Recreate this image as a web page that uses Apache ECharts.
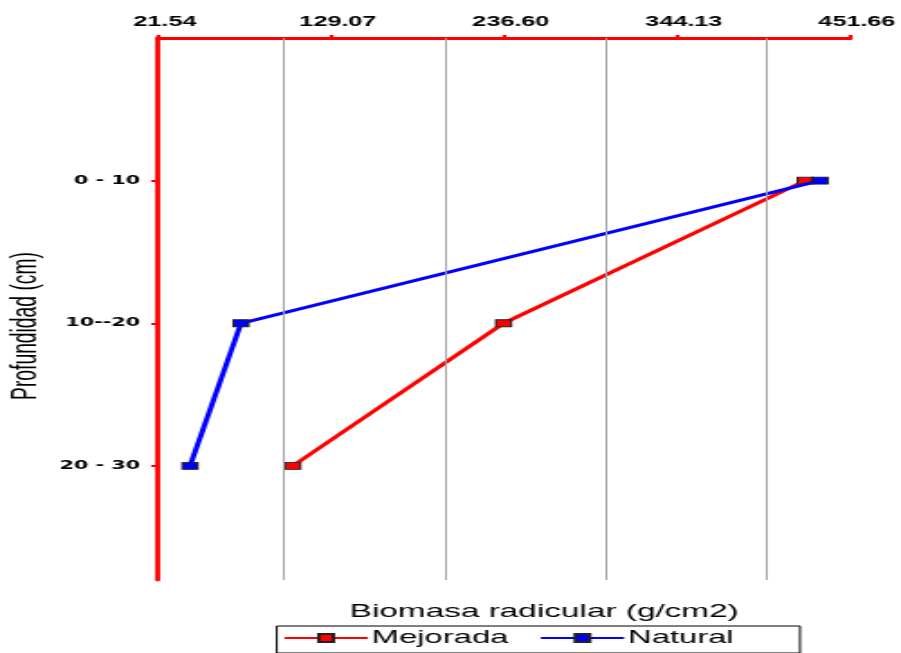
<!DOCTYPE html>
<html><head><meta charset="utf-8">
<script src="https://cdn.jsdelivr.net/npm/echarts@6/dist/echarts.min.js"></script>
<style>
html,body{margin:0;padding:0;background:#fff;overflow:hidden}
#wrap{width:901px;height:653px;overflow:hidden}
#c{width:500px;height:653px;transform:scaleX(1.802);transform-origin:0 0}
</style>
</head><body><div id="wrap"><div id="c"></div></div>
<script>
const depthCategories = ['0 - 10', '10--20', '20 - 30'];
const mejorada = [423.8, 236.3, 105.3];
const natural = [433.1, 73.1, 41.4];
const xTickLabels = [21.54, 129.07, 236.60, 344.13, 451.66];
const gridValues = [100, 200, 300, 400];

const toPts = arr => arr.map((v, i) => [v, i + 1]);
const chart = echarts.init(document.getElementById('c'));
const symbolStyle = { borderColor: '#222', borderWidth: 1 };
const FONT = 'Liberation Sans, Arial, sans-serif';
chart.setOption({
  animation: false,
  grid: { left: 87.7, right: 28.3, top: 38, bottom: 73 },
  title: {
    text: 'Biomasa radicular (g/cm2)', left: 297, top: 597, textAlign: 'center',
    textStyle: { fontFamily: FONT, fontSize: 18.5, fontWeight: 'normal', color: '#000' }
  },
  graphic: [{
    type: 'text', x: 14.5, y: 326, rotation: Math.PI / 2, silent: true,
    style: {
      text: 'Profundidad (cm)', fill: '#000', align: 'center', verticalAlign: 'middle',
      textAlign: 'center', textVerticalAlign: 'middle',
      font: '19.3px ' + FONT
    }
  }],
  legend: {
    left: 153.6, top: 626, padding: [3, 36.8, 6, 3.3], itemGap: 17,
    borderColor: '#000', borderWidth: 1, borderRadius: 0,
    itemWidth: 46.2, itemHeight: 10,
    textStyle: { fontFamily: FONT, fontSize: 18.2, color: '#000', padding: [0, 0, 0, -2.8] },
    data: ['Mejorada', 'Natural']
  },
  xAxis: {
    type: 'value', position: 'top',
    min: xTickLabels[0], max: xTickLabels[xTickLabels.length - 1],
    axisLine: { show: true, onZero: false, lineStyle: { color: '#ff0000', width: 3 } },
    axisTick: { show: true, length: 3, customValues: xTickLabels, lineStyle: { color: '#ff0000', width: 2.2 } },
    axisLabel: {
      customValues: xTickLabels, formatter: v => v.toFixed(2), margin: 9,
      padding: [0, 0, 0, 7.6],
      fontFamily: FONT, fontSize: 14, fontWeight: 'bold', color: '#000'
    },
    splitLine: { show: false }
  },
  yAxis: {
    type: 'value', inverse: true, min: 0, max: 3.8,
    axisLine: { show: true, onZero: false, lineStyle: { color: '#ff0000', width: 2.8 } },
    axisTick: { show: true, length: 3.8, customValues: [1, 2, 3], lineStyle: { color: '#ff0000', width: 2 } },
    axisLabel: {
      customValues: [1, 2, 3], formatter: v => depthCategories[v - 1] || '', margin: 10,
      fontFamily: 'DejaVu Sans, Verdana, sans-serif', fontSize: 11.5, fontWeight: 'bold', color: '#000'
    },
    splitLine: { show: false }
  },
  series: [
    {
      name: 'Mejorada', type: 'line', data: toPts(mejorada),
      symbol: 'rect', symbolSize: [8.5, 7],
      lineStyle: { color: '#ff0000', width: 3 },
      itemStyle: Object.assign({ color: '#ff0000' }, symbolStyle),
      markLine: {
        silent: true, symbol: 'none', label: { show: false },
        lineStyle: { color: '#a0a0a0', width: 1, type: 'solid' },
        data: gridValues.map(v => ({ xAxis: v }))
      },
      z: 3
    },
    {
      name: 'Natural', type: 'line', data: toPts(natural),
      symbol: 'rect', symbolSize: [8.5, 7],
      lineStyle: { color: '#0000ff', width: 3 },
      itemStyle: Object.assign({ color: '#0000ff' }, symbolStyle),
      z: 4
    }
  ]
});
</script></body></html>
